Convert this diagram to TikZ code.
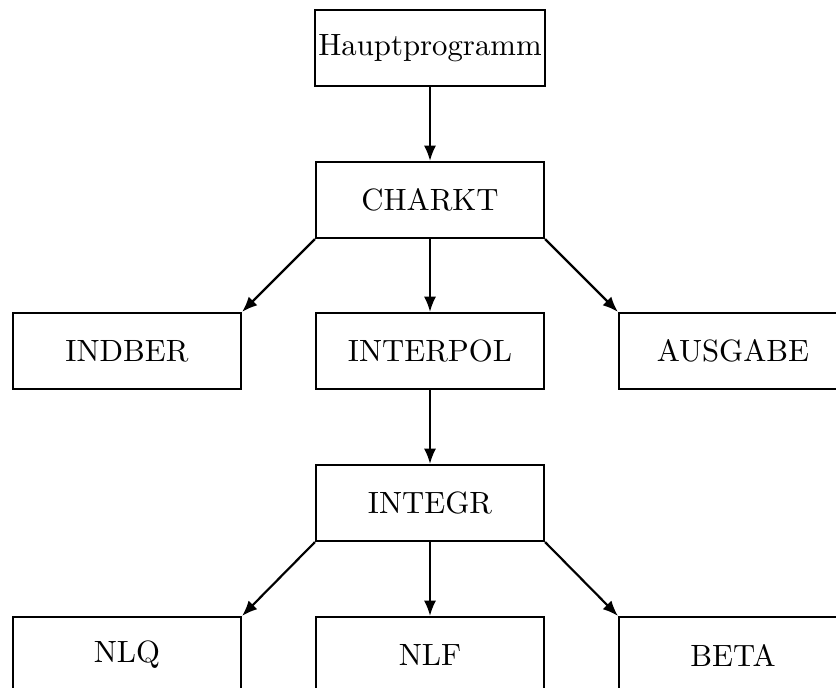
\documentclass[tikz,border=0pt]{standalone}
\usetikzlibrary{arrows.meta}
\begin{document}
\begin{tikzpicture}[x=0.325pt,y=-0.325pt,
  box/.style={draw,line width=0.7pt,minimum width=74.1pt,minimum height=24.7pt,inner sep=1pt,font=\normalsize},
  conn/.style={line width=0.7pt,-{Latex[length=5pt,width=4pt]}}]
\useasboundingbox (0,0) rectangle (836,688);
\clip (0,0) rectangle (836,688);
\node[box] (h) at (430,48) {Hauptprogramm};
\node[box] (c) at (430,200) {CHARKT};
\node[box] (ind) at (127,351) {INDBER};
\node[box] (int) at (430,351) {INTERPOL};
\node[box] (aus) at (733,351) {AUSGABE};
\node[box] (ig) at (430,503) {INTEGR};
\node[box] (nlq) at (127,655) {NLQ};
\node[box] (nlf) at (430,655) {NLF};
\node[box] (beta) at (733,655) {BETA};
\draw[conn] (h.south) -- (c.north);
\draw[conn] (c.south west) -- (ind.north east);
\draw[conn] (c.south) -- (int.north);
\draw[conn] (c.south east) -- (aus.north west);
\draw[conn] (int.south) -- (ig.north);
\draw[conn] (ig.south west) -- (nlq.north east);
\draw[conn] (ig.south) -- (nlf.north);
\draw[conn] (ig.south east) -- (beta.north west);
\end{tikzpicture}
\end{document}
